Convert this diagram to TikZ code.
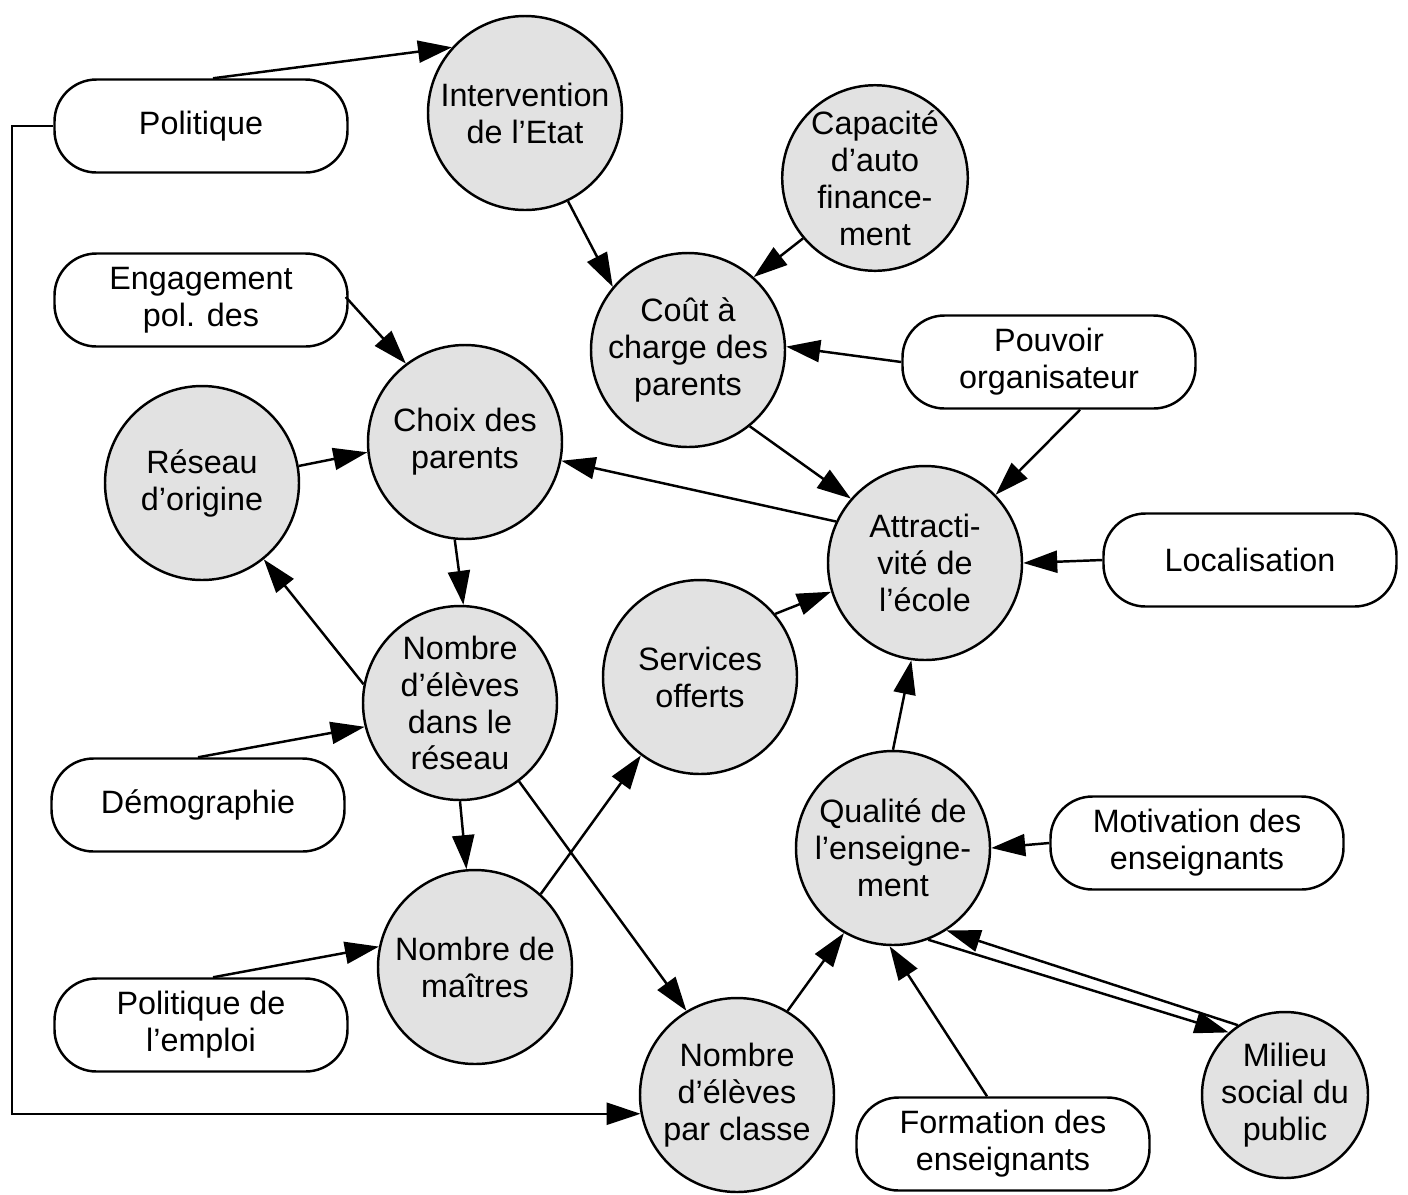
\documentclass[tikz,border=0pt]{standalone}
\usepackage{fontspec}
\setmainfont{Liberation Sans}
\usetikzlibrary{arrows.meta}
\definecolor{cfill}{HTML}{E2E2E2}
\tikzset{
  circ/.style={circle,draw,line width=0.7pt,fill=cfill,minimum size=1.94cm,inner sep=0pt,align=center,font=\fontsize{9.2}{10.5}\selectfont},
  pill/.style={rectangle,rounded corners=0.42cm,draw,line width=0.7pt,fill=white,minimum width=2.93cm,minimum height=0.93cm,inner sep=0pt,align=center,font=\fontsize{9.2}{10.5}\selectfont},
  arr/.style={line width=0.7pt,-{Triangle[length=0.34cm,width=0.22cm]}}
}
\begin{document}
\begin{tikzpicture}
\useasboundingbox (0,0) rectangle (14.08,-11.94);
% circles
\node[circ] (int) at (5.25,-1.13) {Intervention\\de l’Etat};
\node[circ,minimum size=1.72cm] (cap) at (8.75,-1.78) {Capacité\\d’auto\\finance-\\ment};
\node[circ] (cout) at (6.88,-3.50) {Coût à\\charge des\\parents};
\node[circ] (choix) at (4.65,-4.42) {Choix des\\parents};
\node[circ] (res) at (2.02,-4.83) {Réseau\\d’origine};
\node[circ] (attr) at (9.25,-5.63) {Attracti-\\vité de\\l’école};
\node[circ] (serv) at (7.00,-6.77) {Services\\offerts};
\node[circ] (nr) at (4.60,-7.03) {Nombre\\d’élèves\\dans le\\réseau};
\node[circ] (qual) at (8.93,-8.48) {Qualité de\\l’enseigne-\\ment};
\node[circ] (nm) at (4.75,-9.67) {Nombre de\\maîtres};
\node[circ] (npc) at (7.37,-10.95) {Nombre\\d’élèves\\par classe};
\node[circ,minimum size=1.66cm] (mil) at (12.85,-10.95) {Milieu\\social du\\public};
% boxes
\node[pill] (pol) at (2.01,-1.26) {Politique};
\node[pill] (eng) at (2.01,-3.00) {Engagement\\pol. des};
\node[pill] (demo) at (1.98,-8.05) {Démographie};
\node[pill] (emp) at (2.01,-10.25) {Politique de\\l’emploi};
\node[pill] (pouv) at (10.49,-3.62) {Pouvoir\\organisateur};
\node[pill] (loc) at (12.50,-5.60) {Localisation};
\node[pill] (mot) at (11.97,-8.43) {Motivation des\\enseignants};
\node[pill] (form) at (10.03,-11.44) {Formation des\\enseignants};
\coordinate (lft) at (0.12,0);
% connectors
\draw[arr] ([xshift=0.12cm]pol.north) -- (int.138);
\draw[arr] (pol.west) -- (pol.west -| lft) |- (npc.191);
\draw[arr] (int.-64) -- (cout.140);
\draw[arr] (cap.220) -- (cout.48);
\draw[arr] (pouv.west) -- (cout.2);
\draw[arr] ([xshift=-0.03cm,yshift=0.03cm]eng.east) -- (choix.127);
\draw[arr] (res.10) -- (choix.186);
\draw[arr] (cout.-51) -- (attr.139);
\draw[arr] ([xshift=0.31cm]pouv.south) -- (attr.44);
\draw[arr] (attr.155) -- (choix.-11);
\draw[arr] (loc.west) -- (attr.0);
\draw[arr] (choix.-96) -- (nr.88);
\draw[arr] (nr.169) -- (res.-51);
\draw[arr] (serv.40) -- (attr.197);
\draw[arr] (demo.north) -- (nr.194);
\draw[arr] (nr.-90) -- (nm.95);
\draw[arr] (nr.-53) -- (npc.121);
\draw[arr] (nm.48) -- (serv.233);
\draw[arr] ([xshift=0.12cm]emp.north) -- (nm.168);
\draw[arr] (npc.59) -- (qual.240);
\draw[arr] (qual.90) -- (attr.262);
\draw[arr] (mot.west) -- (qual.0);
\draw[arr] ([xshift=-0.16cm]form.north) -- (qual.268);
\draw[arr] (qual.-69) -- (mil.132);
\draw[arr] (mil.124) -- (qual.-57);
\end{tikzpicture}
\end{document}
